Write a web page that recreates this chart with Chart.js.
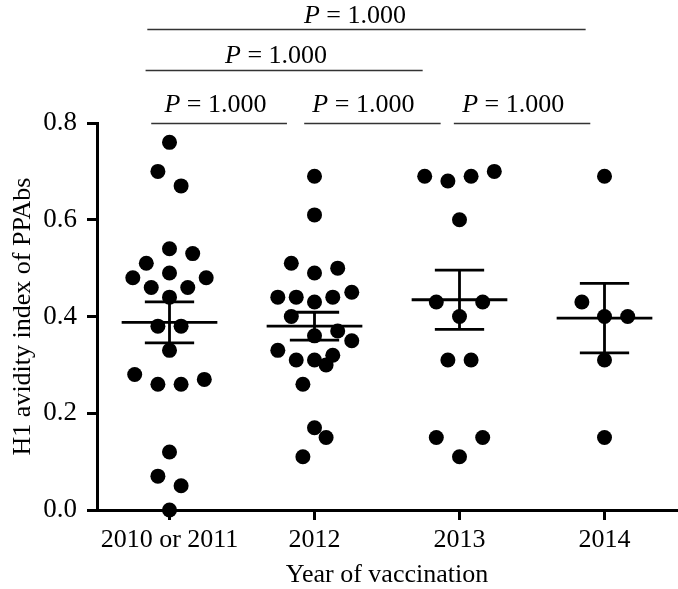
<!DOCTYPE html>
<html>
<head>
<meta charset="utf-8">
<script src="https://cdn.jsdelivr.net/npm/chart.js@4/dist/chart.umd.min.js"></script>
<style>
html,body{margin:0;padding:0;background:#fff;}
#wrap{width:678px;height:589px;position:relative;}
</style>
</head>
<body>
<div id="wrap"><canvas id="c"></canvas></div>
<script>
// ---- data ----
const categories = ['2010 or 2011', '2012', '2013', '2014'];
const yTickValues = [0, 0.2, 0.4, 0.6, 0.8];
const yTickLabels = ['0.0', '0.2', '0.4', '0.6', '0.8'];

const values2010 = [0.76, 0.70, 0.67, 0.54, 0.53, 0.51, 0.49, 0.48, 0.48, 0.46, 0.46, 0.44, 0.38, 0.38, 0.33, 0.28, 0.26, 0.26, 0.27, 0.12, 0.07, 0.05, 0.00];
const values2012 = [0.69, 0.61, 0.51, 0.50, 0.49, 0.44, 0.44, 0.43, 0.44, 0.45, 0.40, 0.36, 0.37, 0.35, 0.33, 0.31, 0.31, 0.32, 0.30, 0.26, 0.17, 0.15, 0.11];
const values2013 = [0.69, 0.68, 0.69, 0.70, 0.60, 0.43, 0.43, 0.40, 0.31, 0.31, 0.15, 0.15, 0.11];
const values2014 = [0.69, 0.43, 0.40, 0.40, 0.31, 0.15];

const pValues = ['1.000', '1.000', '1.000', '1.000', '1.000'];

// ---- layout (horizontal scatter offsets of the dots, in category units) ----
const jitter2010 = [0, -0.08, 0.08, 0, 0.16, -0.16, 0, -0.253, 0.253, -0.126, 0.126, 0, -0.08, 0.08, 0, -0.24, -0.08, 0.08, 0.24, 0, -0.08, 0.08, 0];
const jitter2012 = [0, 0, -0.16, 0.16, 0, -0.253, -0.126, 0, 0.126, 0.257, -0.16, 0, 0.16, 0.257, -0.253, -0.126, 0, 0.126, 0.08, -0.08, 0, 0.08, -0.08];
const jitter2013 = [-0.24, -0.08, 0.08, 0.24, 0, -0.16, 0.16, 0, -0.08, 0.08, -0.16, 0.16, 0];
const jitter2014 = [0, -0.156, 0, 0.16, 0, 0];

// comparison brackets: [fromX, toX, y] in data units ; label [centerX, baselineY]
const bracketLines = [[-0.153, 2.870, 0.9937], [-0.165, 1.746, 0.9096], [-0.126, 0.810, 0.8006], [0.929, 1.870, 0.8006], [1.961, 2.902, 0.8006]];
const bracketLabelPos = [[1.279, 1.0073], [0.735, 0.9234], [0.317, 0.8234], [1.337, 0.8234], [2.370, 0.8234]];

const groups = [values2010, values2012, values2013, values2014];
const jitters = [jitter2010, jitter2012, jitter2013, jitter2014];

const FONT = "'Liberation Serif', 'Times New Roman', serif";

function meanSem(arr) {
  const n = arr.length;
  const m = arr.reduce((a, b) => a + b, 0) / n;
  const sd = Math.sqrt(arr.reduce((a, b) => a + (b - m) * (b - m), 0) / (n - 1));
  return [m, sd / Math.sqrt(n)];
}

const datasets = [];
groups.forEach((vals, i) => {
  datasets.push({
    type: 'scatter',
    data: vals.map((v, k) => ({ x: i + jitters[i][k], y: v })),
    backgroundColor: '#000',
    borderWidth: 0,
    pointRadius: 7.5,
    pointHoverRadius: 7.5,
    clip: false,
    order: 2
  });
  const [m, s] = meanSem(vals);
  const gap = { x: i, y: null };
  datasets.push({
    type: 'scatter',
    showLine: true,
    spanGaps: false,
    data: [
      { x: i - 0.33, y: m }, { x: i + 0.33, y: m }, gap,
      { x: i - 0.17, y: m + s }, { x: i + 0.17, y: m + s }, gap,
      { x: i - 0.17, y: m - s }, { x: i + 0.17, y: m - s }, gap,
      { x: i, y: m - s }, { x: i, y: m + s }
    ],
    borderColor: '#000',
    borderWidth: 2.8,
    pointRadius: 0,
    clip: false,
    order: 1
  });
});

const bracketPlugin = {
  id: 'brackets',
  afterDatasetsDraw(chart) {
    const ctx = chart.ctx;
    const xs = chart.scales.x, ys = chart.scales.y;
    ctx.save();
    ctx.strokeStyle = '#333';
    ctx.lineWidth = 1.6;
    bracketLines.forEach(([a, b, y]) => {
      const py = Math.round(ys.getPixelForValue(y)) + 0.5;
      ctx.beginPath();
      ctx.moveTo(xs.getPixelForValue(a), py);
      ctx.lineTo(xs.getPixelForValue(b), py);
      ctx.stroke();
    });
    ctx.fillStyle = '#000';
    ctx.textBaseline = 'alphabetic';
    ctx.textAlign = 'left';
    const italic = 'italic 26px ' + FONT;
    const normal = '26px ' + FONT;
    bracketLabelPos.forEach(([cx, by], k) => {
      const rest = ' = ' + pValues[k];
      ctx.font = italic;
      const w1 = ctx.measureText('P').width;
      ctx.font = normal;
      const w2 = ctx.measureText(rest).width;
      const px = xs.getPixelForValue(cx) - (w1 + w2) / 2;
      const py = ys.getPixelForValue(by);
      ctx.font = italic;
      ctx.fillText('P', px, py);
      ctx.font = normal;
      ctx.fillText(rest, px + w1, py);
    });
    ctx.restore();
  }
};

new Chart(document.getElementById('c'), {
  type: 'scatter',
  data: { datasets },
  plugins: [bracketPlugin],
  options: {
    responsive: true,
    maintainAspectRatio: false,
    animation: false,
    events: [],
    layout: { autoPadding: false, padding: { top: 123, right: 1, left: 0, bottom: 0 } },
    plugins: { legend: { display: false }, tooltip: { enabled: false } },
    scales: {
      x: {
        type: 'linear',
        min: -0.5,
        max: 3.5,
        afterBuildTicks: (s) => { s.ticks = categories.map((_, i) => ({ value: i })); },
        afterFit: (s) => { s.height = 79; s.paddingLeft = 0; s.paddingRight = 0; },
        ticks: {
          autoSkip: false,
          maxRotation: 0,
          padding: 5,
          color: '#000',
          font: { family: FONT, size: 26 },
          callback: (v) => categories[v]
        },
        grid: { drawOnChartArea: false, drawTicks: true, tickLength: 10, tickWidth: 3, color: '#000' },
        border: { display: true, color: '#000', width: 3 },
        title: {
          display: true,
          text: 'Year of vaccination',
          color: '#000',
          font: { family: FONT, size: 26, lineHeight: 1 },
          padding: { top: 0, bottom: 1 }
        }
      },
      y: {
        min: 0,
        max: 0.8,
        afterBuildTicks: (s) => { s.ticks = yTickValues.map(v => ({ value: v })); },
        afterFit: (s) => { s.width = 97; s.paddingTop = 0; s.paddingBottom = 0; },
        ticks: {
          padding: 10,
          color: '#000',
          font: { family: FONT, size: 27 },
          callback: (v) => yTickLabels[yTickValues.findIndex(t => Math.abs(t - v) < 1e-9)]
        },
        grid: { drawOnChartArea: false, drawTicks: true, tickLength: 10, tickWidth: 3, color: '#000' },
        border: { display: true, color: '#000', width: 3 },
        title: {
          display: true,
          text: 'H1 avidity index of PPAbs',
          color: '#000',
          font: { family: FONT, size: 26, lineHeight: 1 },
          padding: { top: 10, bottom: 0 }
        }
      }
    }
  }
});
</script>
</body>
</html>
